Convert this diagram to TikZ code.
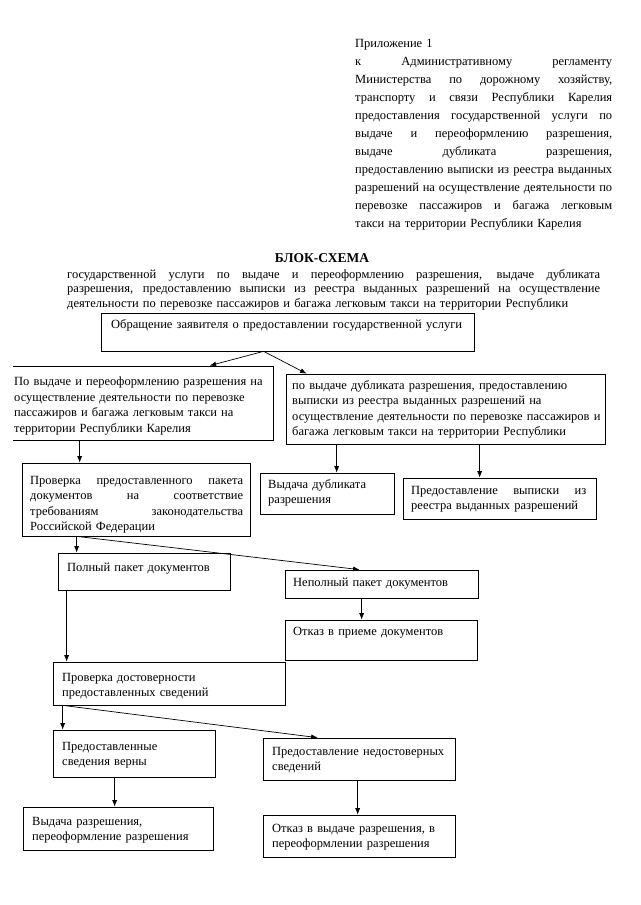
\documentclass[tikz,border=0pt]{standalone}
\usepackage{fontspec}
\setmainfont{Liberation Serif}
\usetikzlibrary{arrows.meta, fit}

\newcommand{\jl}[1]{{\spaceskip=0pt\xspaceskip=0pt\makebox[\hsize][s]{#1}}}

\begin{document}
\begin{tikzpicture}[x=1pt, y=-1pt,
    blok/.style={draw, inner sep=0pt, line width=0.7pt},
    txt/.style={anchor=north west, inner sep=0pt, align=left, font=\fontsize{12.5}{15.5}\selectfont},
    strelka/.style={-{Latex[length=6.5pt, width=5pt]}, line width=0.7pt}]

    \useasboundingbox (0,0) rectangle (640,905);
    \clip (13,0) rectangle (640,905);

    % Header
    \node[txt, text width=257, font=\fontsize{12.5}{18}\selectfont] (prilozh) at (355,39) {%
        Приложение 1\\
        \jl{к Административному регламенту}\\
        \jl{Министерства по дорожному хозяйству,}\\
        \jl{транспорту и связи Республики Карелия}\\
        \jl{предоставления государственной услуги по}\\
        \jl{выдаче и переоформлению разрешения,}\\
        \jl{выдаче дубликата разрешения,}\\
        \jl{предоставлению выписки из реестра выданных}\\
        \jl{разрешений на осуществление деятельности по}\\
        \jl{перевозке пассажиров и багажа легковым}\\
        такси на территории Республики Карелия};

    \node[font=\fontsize{13.5}{15}\selectfont\bfseries] (titul) at (322,258) {БЛОК-СХЕМА};
    \node[txt, text width=533, font=\fontsize{12.5}{14.5}\selectfont] (podzag) at (67,269) {%
        \jl{государственной услуги по выдаче и переоформлению разрешения, выдаче дубликата}\\
        \jl{разрешения, предоставлению выписки из реестра выданных разрешений на осуществление}\\
        деятельности по перевозке пассажиров и багажа легковым такси на территории Республики};

    % Boxes
    \node[blok, fit={(101,313) (474,351)}] (zayav) {};
    \node[txt, text width=380] (zayav-t) at (111,319) {Обращение заявителя о предоставлении государственной услуги};

    \node[blok, fit={(4,366) (273,440)}] (kar) {};
    \node[txt, text width=280] (kar-t) at (14,377) {По выдаче и переоформлению разрешения на\\
        осуществление деятельности по перевозке\\
        пассажиров и багажа легковым такси на\\
        территории Республики Карелия};

    \node[blok, fit={(286,374) (605,444)}] (dubl) {};
    \node[txt, text width=330] (dubl-t) at (292,380) {по выдаче дубликата разрешения, предоставлению\\
        выписки из реестра выданных разрешений на\\
        осуществление деятельности по перевозке пассажиров и\\
        багажа легковым такси на территории Республики};

    \node[blok, fit={(22,463) (250,536)}] (prov) {};
    \node[txt, text width=213] (prov-t) at (30,476) {\jl{Проверка предоставленного пакета}\\
        \jl{документов на соответствие}\\
        \jl{требованиям законодательства}\\
        Российской Федерации};

    \node[blok, fit={(260,473) (394,514)}] (vydubl) {};
    \node[txt, text width=140] (vydubl-t) at (268,479) {Выдача дубликата\\ разрешения};

    \node[blok, fit={(403,478) (596,519)}] (vypiska) {};
    \node[txt, text width=175] (vypiska-t) at (411,486) {\jl{Предоставление выписки из}\\
        реестра выданных разрешений};

    \node[blok, fit={(58,553) (230,590)}] (polny) {};
    \node[txt, text width=180] (polny-t) at (67,563) {Полный пакет документов};

    \node[blok, fit={(285,570) (478,598)}] (nepolny) {};
    \node[txt, text width=200] (nepolny-t) at (293,578) {Неполный пакет документов};

    \node[blok, fit={(285,620) (477,660)}] (priem) {};
    \node[txt, text width=200] (priem-t) at (293,627) {Отказ в приеме документов};

    \node[blok, fit={(53,662) (285,705)}] (dostov) {};
    \node[txt, text width=230] (dostov-t) at (62,673) {Проверка достоверности\\ предоставленных сведений};

    \node[blok, fit={(53,730) (215,777)}] (verny) {};
    \node[txt, text width=160] (verny-t) at (62,742) {Предоставленные\\ сведения верны};

    \node[blok, fit={(263,738) (455,780)}] (nedostov) {};
    \node[txt, text width=200] (nedostov-t) at (272,747) {Предоставление недостоверных\\ сведений};

    \node[blok, fit={(23,807) (213,850)}] (vydacha) {};
    \node[txt, text width=200] (vydacha-t) at (32,817) {Выдача разрешения,\\ переоформление разрешения};

    \node[blok, fit={(263,815) (455,857)}] (otkaz) {};
    \node[txt, text width=200] (otkaz-t) at (272,824) {Отказ в выдаче разрешения, в\\ переоформлении разрешения};

    % Connectors
    \coordinate (z1) at ([xshift=163]zayav.south west);
    \draw[strelka] (z1) -- ([xshift=206]kar.north west);
    \draw[strelka] (z1) -- ([xshift=21]dubl.north west);

    \coordinate (k1) at ([xshift=76]kar.south west);
    \draw[strelka] (k1) -- (k1 |- prov.north);

    \coordinate (d1) at ([xshift=51]dubl.south west);
    \coordinate (d2) at ([xshift=194]dubl.south west);
    \draw[strelka] (d1) -- (d1 |- vydubl.north);
    \draw[strelka] (d2) -- (d2 |- vypiska.north);

    \coordinate (p1) at ([xshift=55]prov.south west);
    \draw[strelka] (p1) -- (p1 |- polny.north);
    \draw[strelka] (p1) -- ([xshift=75]nepolny.north west);

    \coordinate (n1) at ([xshift=77]nepolny.south west);
    \draw[strelka] (n1) -- (n1 |- priem.north);

    \coordinate (pl1) at ([xshift=9]polny.south west);
    \draw[strelka] (pl1) -- (pl1 |- dostov.north);

    \coordinate (s1) at ([xshift=10]dostov.south west);
    \draw[strelka] (s1) -- (s1 |- verny.north);
    \draw[strelka] (s1) -- ([xshift=55]nedostov.north west);

    \coordinate (v1) at ([xshift=62]verny.south west);
    \draw[strelka] (v1) -- (v1 |- vydacha.north);

    \coordinate (nd1) at ([xshift=95]nedostov.south west);
    \draw[strelka] (nd1) -- (nd1 |- otkaz.north);
\end{tikzpicture}
\end{document}
